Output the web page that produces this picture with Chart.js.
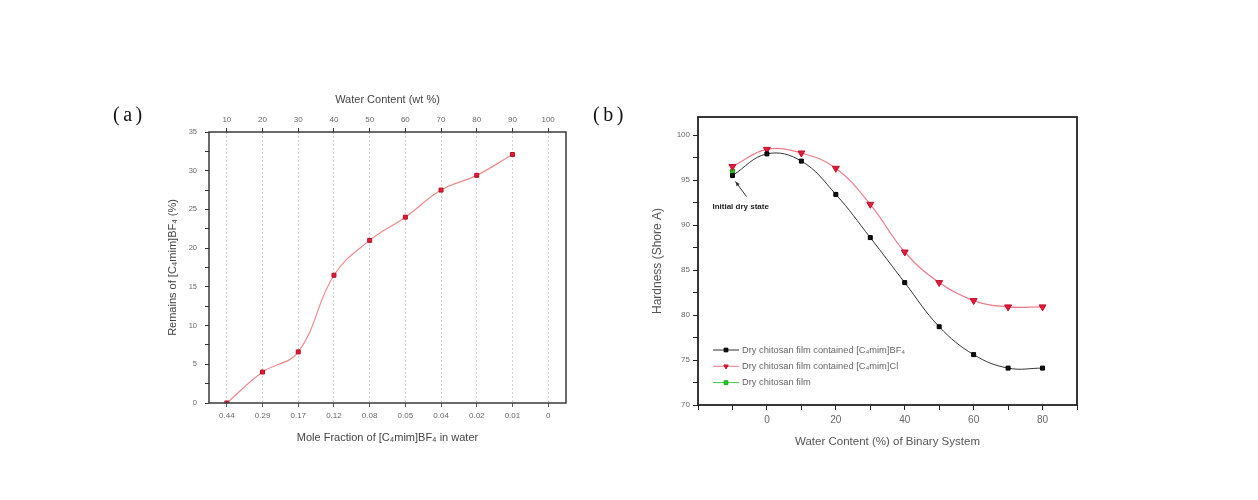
<!DOCTYPE html>
<html>
<head>
<meta charset="utf-8">
<script src="https://cdn.jsdelivr.net/npm/chart.js@4/dist/chart.umd.min.js"></script>
<style>
  html, body { margin: 0; padding: 0; background: #fff; }
  #wrap { position: relative; width: 1258px; height: 500px; overflow: hidden; }
  canvas { position: absolute; top: 0; }
  .plabel { position: absolute; font-family: 'Liberation Serif', serif; font-size: 20px; color: #111; letter-spacing: 3.5px; line-height: 1; }
</style>
</head>
<body>
<div id="wrap">
  <canvas id="chartA" width="629" height="500" style="left:0px"></canvas>
  <canvas id="chartB" width="629" height="500" style="left:629px"></canvas>
  <div class="plabel" style="left:113px; top:104px;">(a)</div>
  <div class="plabel" style="left:593px; top:104px;">(b)</div>
</div>
<script>
// ---------- Panel (a) data ----------
const wtContent = [10, 20, 30, 40, 50, 60, 70, 80, 90];
const remains = [0, 4.0, 6.6, 16.5, 21.0, 24.0, 27.5, 29.4, 32.1];
const wtTickValues = [10, 20, 30, 40, 50, 60, 70, 80, 90, 100];
const moleFractionLabels = ['0.44', '0.29', '0.17', '0.12', '0.08', '0.05', '0.04', '0.02', '0.01', '0'];

// ---------- Panel (b) data ----------
const waterContent = [-10, 0, 10, 20, 30, 40, 50, 60, 70, 80];
const hardnessBF4 = [95.5, 97.9, 97.1, 93.4, 88.6, 83.6, 78.7, 75.6, 74.1, 74.1];
const hardnessCl = [96.5, 98.4, 98.0, 96.3, 92.3, 87.0, 83.6, 81.6, 80.9, 80.9];
const dryFilmX = [-10];
const hardnessDry = [96.0];
const seriesNames = [
  'Dry chitosan film contained [C\u2084mim]BF\u2084',
  'Dry chitosan film contained [C\u2084mim]Cl',
  'Dry chitosan film'
];
const annotationText = 'Initial dry state';

const FONT = "'Liberation Sans', Arial, sans-serif";
Chart.defaults.font.family = FONT;
Chart.defaults.animation = false;

function pts(xs, ys) { return xs.map((x, i) => ({ x: x, y: ys[i] })); }

const framePlugin = {
  id: 'frame',
  afterDatasetsDraw(chart, args, opts) {
    const { ctx, chartArea: a } = chart;
    ctx.save();
    ctx.strokeStyle = opts.color || '#333';
    ctx.lineWidth = opts.width || 1.5;
    ctx.strokeRect(a.left, a.top, a.right - a.left, a.bottom - a.top);
    ctx.restore();
  }
};

// ---------- Chart (a) ----------
new Chart(document.getElementById('chartA'), {
  type: 'line',
  data: {
    datasets: [{
      data: pts(wtContent, remains),
      xAxisID: 'x', yAxisID: 'y',
      borderColor: '#f28a8a', borderWidth: 1.2,
      tension: 0.4,
      pointStyle: 'rect', pointRadius: 2.8,
      pointBackgroundColor: '#e81a30', pointBorderColor: '#b0102a', pointBorderWidth: 1
    }]
  },
  options: {
    responsive: false,
    layout: { padding: { left: 160, right: 63, top: 88, bottom: 50 } },
    plugins: { legend: { display: false }, tooltip: { enabled: false }, frame: { color: '#3a3a3a', width: 1.5 } },
    scales: {
      x: {
        type: 'linear', position: 'bottom', min: 5, max: 105,
        afterBuildTicks: s => { s.ticks = wtTickValues.map(v => ({ value: v })); },
        afterFit: s => { s.height = 47; },
        ticks: { autoSkip: false, maxRotation: 0, padding: 4, color: '#666', font: { size: 8 },
                 callback: (v, i) => moleFractionLabels[i] },
        grid: { drawOnChartArea: true, color: '#c4c4c4', lineWidth: 0.8, tickColor: '#333', tickLength: 4 },
        border: { display: false, dash: [2, 2] },
        title: { display: true, text: 'Mole Fraction of [C\u2084mim]BF\u2084 in water', color: '#444',
                 font: { size: 11 }, padding: { top: 2, bottom: 5 } }
      },
      x2: {
        type: 'linear', position: 'top', min: 5, max: 105,
        afterBuildTicks: s => { s.ticks = wtTickValues.map(v => ({ value: v })); },
        afterFit: s => { s.height = 44; },
        ticks: { autoSkip: false, maxRotation: 0, padding: 3, color: '#666', font: { size: 8 } },
        grid: { drawOnChartArea: false, tickColor: '#333', tickLength: 4 },
        border: { display: false },
        title: { display: true, text: 'Water Content (wt %)', color: '#444',
                 font: { size: 11 }, padding: { top: 5, bottom: 2 } }
      },
      y: {
        type: 'linear', position: 'left', min: 0, max: 35,
        ticks: { stepSize: 2.5, padding: 8, color: '#666', font: { size: 7.5 },
                 callback: v => (v % 5 === 0 ? v : '') },
        afterFit: s => { s.width = 49; },
        grid: { drawOnChartArea: false, tickColor: '#333', tickLength: 4 },
        border: { display: false },
        title: { display: true, text: 'Remains of [C\u2084mim]BF\u2084 (%)', color: '#444',
                 font: { size: 11 }, padding: { top: 6, bottom: 2 } }
      }
    }
  },
  plugins: [framePlugin]
});

// ---------- Chart (b) ----------
const legendBPlugin = {
  id: 'legendB',
  afterDatasetsDraw(chart) {
    const { ctx, chartArea: a } = chart;
    ctx.save();
    chart.data.datasets.forEach((ds, i) => {
      const y = a.bottom - 55 + i * 16.3;
      const x0 = a.left + 15;
      ctx.strokeStyle = ds.borderColor;
      ctx.lineWidth = 1;
      ctx.beginPath(); ctx.moveTo(x0, y); ctx.lineTo(x0 + 26, y); ctx.stroke();
      ctx.fillStyle = ds.pointBackgroundColor;
      ctx.strokeStyle = ds.pointBorderColor;
      Chart.helpers.drawPoint(ctx, {
        pointStyle: ds.pointStyle, radius: 2.6, rotation: ds.pointRotation || 0, borderWidth: 1
      }, x0 + 13, y);
      ctx.fillStyle = '#666';
      ctx.font = '9.3px ' + FONT;
      ctx.textBaseline = 'middle';
      ctx.textAlign = 'left';
      ctx.fillText(ds.label, x0 + 29, y);
    });
    ctx.restore();
  }
};

const annotationPlugin = {
  id: 'annot',
  afterDatasetsDraw(chart) {
    const { ctx, scales } = chart;
    const px = scales.x.getPixelForValue(dryFilmX[0]);
    const py = scales.y.getPixelForValue(hardnessBF4[0]);
    ctx.save();
    ctx.strokeStyle = '#333'; ctx.fillStyle = '#333'; ctx.lineWidth = 1;
    const ax0 = px + 14, ay0 = py + 21, ax1 = px + 3, ay1 = py + 6;
    ctx.beginPath(); ctx.moveTo(ax0, ay0); ctx.lineTo(ax1, ay1); ctx.stroke();
    const ang = Math.atan2(ay1 - ay0, ax1 - ax0);
    ctx.beginPath();
    ctx.moveTo(ax1, ay1);
    ctx.lineTo(ax1 - 5 * Math.cos(ang - 0.4), ay1 - 5 * Math.sin(ang - 0.4));
    ctx.lineTo(ax1 - 5 * Math.cos(ang + 0.4), ay1 - 5 * Math.sin(ang + 0.4));
    ctx.closePath(); ctx.fill();
    ctx.font = 'bold 8px ' + FONT;
    ctx.fillStyle = '#222';
    ctx.textBaseline = 'middle';
    ctx.fillText(annotationText, px - 20, py + 31);
    ctx.restore();
  }
};

new Chart(document.getElementById('chartB'), {
  type: 'line',
  data: {
    datasets: [
      { label: seriesNames[0], data: pts(waterContent, hardnessBF4),
        borderColor: '#333', borderWidth: 1, tension: 0.4,
        pointStyle: 'rect', pointRadius: 2.8, pointBackgroundColor: '#111', pointBorderColor: '#000', pointBorderWidth: 1 },
      { label: seriesNames[1], data: pts(waterContent, hardnessCl),
        borderColor: '#f27c8c', borderWidth: 1.2, tension: 0.4,
        pointStyle: 'triangle', pointRotation: 180, pointRadius: 4, pointBackgroundColor: '#e8183a', pointBorderColor: '#c0102a', pointBorderWidth: 1 },
      { label: seriesNames[2], data: pts(dryFilmX, hardnessDry),
        borderColor: '#44cc44', borderWidth: 1, showLine: false,
        pointStyle: 'rect', pointRadius: 2.8, pointBackgroundColor: '#22cc22', pointBorderColor: '#11aa11', pointBorderWidth: 1 }
    ]
  },
  options: {
    responsive: false,
    layout: { padding: { left: 18, right: 181, top: 117, bottom: 48 } },
    plugins: { legend: { display: false }, tooltip: { enabled: false }, frame: { color: '#222', width: 1.8 } },
    scales: {
      x: {
        type: 'linear', position: 'bottom', min: -20, max: 90,
        afterFit: s => { s.height = 47; },
        ticks: { stepSize: 10, autoSkip: false, maxRotation: 0, padding: 4, color: '#666', font: { size: 10 },
                 callback: v => ((v % 20 === 0 && v > -20) ? v : '') },
        grid: { drawOnChartArea: false, tickColor: '#222', tickLength: 5 },
        border: { display: false },
        title: { display: true, text: 'Water Content (%) of Binary System', color: '#555',
                 font: { size: 11.5 }, padding: { top: 2, bottom: 3.5 } }
      },
      y: {
        type: 'linear', position: 'left', min: 70, max: 102,
        afterBuildTicks: s => { s.ticks = s.ticks.filter(t => (t.value * 2) % 5 === 0); },
        afterFit: s => { s.width = 51; },
        ticks: { stepSize: 2.5, padding: 3, color: '#666', font: { size: 8 },
                 callback: v => (v % 5 === 0 ? v : '') },
        grid: { drawOnChartArea: false, tickColor: '#222', tickLength: 5 },
        border: { display: false },
        title: { display: true, text: 'Hardness (Shore A)', color: '#555',
                 font: { size: 12 }, padding: { top: 3, bottom: 2 } }
      }
    }
  },
  plugins: [framePlugin, legendBPlugin, annotationPlugin]
});
</script>
</body>
</html>
